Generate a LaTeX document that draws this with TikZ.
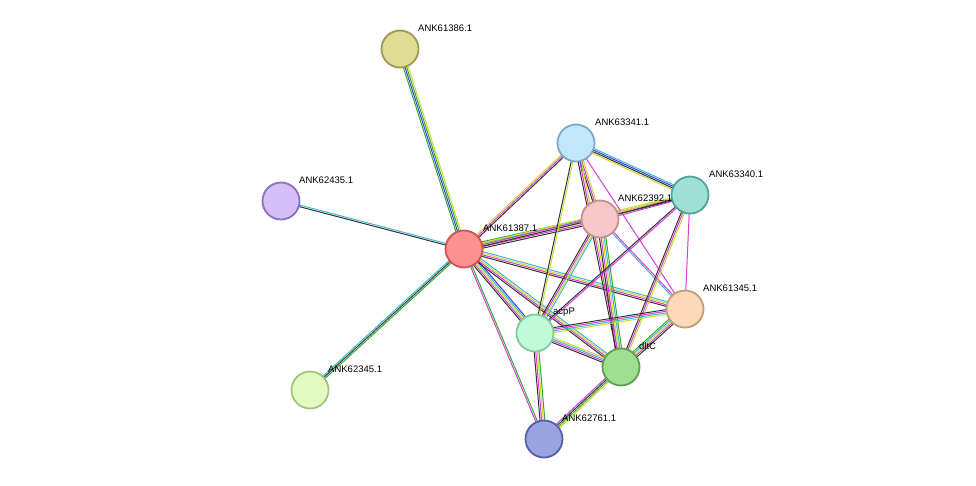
\documentclass[tikz,border=0pt]{standalone}
\usepackage{fontspec}
\setsansfont{Liberation Sans}
\usetikzlibrary{calc,backgrounds}
\definecolor{tm}{HTML}{C8DC2A}
\definecolor{co}{HTML}{333333}
\definecolor{db}{HTML}{3AB8D8}
\definecolor{ex}{HTML}{D63CD6}
\definecolor{nb}{HTML}{2EAA2E}
\definecolor{oc}{HTML}{3340E0}
% multi-coloured evidence edge
\newcommand\sedge[3]{%
  \foreach \c [count=\n] in {#3}{\xdef\sn{\n}}%
  \foreach \c [count=\i] in {#3}{%
    \pgfmathsetmacro\s{(\i-1)*1.6-(\sn-1)*0.8}
    \draw[\c, line width=1pt] ($(#1.center)!\s pt!90:(#2.center)$) -- ($(#2.center)!\s pt!-90:(#1.center)$);
  }}
\begin{document}
\begin{tikzpicture}[x=1pt,y=-1pt]
  \tikzset{prot/.style={circle,line width=1.8pt,minimum size=37pt,inner sep=0pt},
           lbl/.style={font=\sffamily\fontsize{9.5}{10}\selectfont,anchor=west,inner sep=0pt}}
  \useasboundingbox (0,0) rectangle (976,485);

  \node[prot,fill={rgb,255:red,224;green,220;blue,148},draw={rgb,255:red,158;green,154;blue,85}] (N386) at (400,49) {};
  \node[prot,fill={rgb,255:red,212;green,191;blue,251},draw={rgb,255:red,138;green,114;blue,192}] (N435) at (281,201) {};
  \node[prot,fill={rgb,255:red,255;green,144;blue,144},draw={rgb,255:red,204;green,85;blue,85}] (N387) at (464,249) {};
  \node[prot,fill={rgb,255:red,226;green,251;blue,192},draw={rgb,255:red,165;green,196;blue,128}] (N345) at (310,390) {};
  \node[prot,fill={rgb,255:red,194;green,231;blue,250},draw={rgb,255:red,127;green,169;blue,194}] (N341) at (576,143) {};
  \node[prot,fill={rgb,255:red,158;green,224;blue,214},draw={rgb,255:red,79;green,165;blue,150}] (N340) at (690,195) {};
  \node[prot,fill={rgb,255:red,247;green,199;blue,199},draw={rgb,255:red,196;green,143;blue,143}] (N392) at (600,219) {};
  \node[prot,fill={rgb,255:red,252;green,217;blue,184},draw={rgb,255:red,196;green,158;blue,120}] (N1345) at (685,309) {};
  \node[prot,fill={rgb,255:red,192;green,252;blue,216},draw={rgb,255:red,127;green,203;blue,154}] (acpP) at (535,333) {};
  \node[prot,fill={rgb,255:red,158;green,222;blue,144},draw={rgb,255:red,94;green,160;blue,80}] (dltC) at (621,367) {};
  \node[prot,fill={rgb,255:red,154;green,163;blue,224},draw={rgb,255:red,85;green,96;blue,168}] (N761) at (544,439) {};

  \begin{scope}[on background layer]
    \sedge{N387}{N386}{tm,nb,oc,nb}
    \sedge{N387}{N435}{db,co}
    \sedge{N387}{N345}{db,co,nb}
    \sedge{N387}{N341}{co,ex,tm}
    \sedge{N387}{N392}{co,ex,tm,db,nb}
    \sedge{N387}{N340}{co,ex,tm}
    \sedge{N387}{N1345}{co,ex,tm,db}
    \sedge{N387}{acpP}{co,ex,tm,db,oc}
    \sedge{N387}{dltC}{co,ex,tm,db}
    \sedge{N387}{N761}{ex,nb}
    \sedge{N341}{N340}{tm,co,oc,db}
    \sedge{N341}{N392}{co,ex,tm}
    \sedge{N341}{acpP}{co,tm}
    \sedge{N341}{dltC}{co,ex,tm}
    \sedge{N341}{N1345}{ex}
    \sedge{N392}{N340}{ex,co,tm}
    \sedge{N392}{acpP}{co,ex,tm,db}
    \sedge{N392}{dltC}{co,ex,tm,db,nb}
    \sedge{N392}{N1345}{db,ex}
    \sedge{N340}{dltC}{co,ex,tm}
    \sedge{N340}{acpP}{co,ex}
    \sedge{N340}{N1345}{ex}
    \sedge{acpP}{N1345}{tm,db,ex,co}
    \sedge{acpP}{dltC}{co,ex,db,tm}
    \sedge{acpP}{N761}{co,ex,tm,nb}
    \sedge{dltC}{N1345}{co,ex,tm,db,nb}
    \sedge{dltC}{N761}{ex,co,nb,tm}
  \end{scope}

  \node[lbl] (t386) at (418,28) {ANK61386.1};
  \node[lbl] (t435) at (299,180) {ANK62435.1};
  \node[lbl] (t387) at (483,228) {ANK61387.1};
  \node[lbl] (t345) at (328,369) {ANK62345.1};
  \node[lbl] (t341) at (595,122) {ANK63341.1};
  \node[lbl] (t340) at (709,174) {ANK63340.1};
  \node[lbl] (t392) at (618,198) {ANK62392.1};
  \node[lbl] (t1345) at (703,288) {ANK61345.1};
  \node[lbl] (tacp) at (553,312) {acpP};
  \node[lbl] (tdlt) at (639,346) {dltC};
  \node[lbl] (t761) at (562,418) {ANK62761.1};
\end{tikzpicture}
\end{document}
